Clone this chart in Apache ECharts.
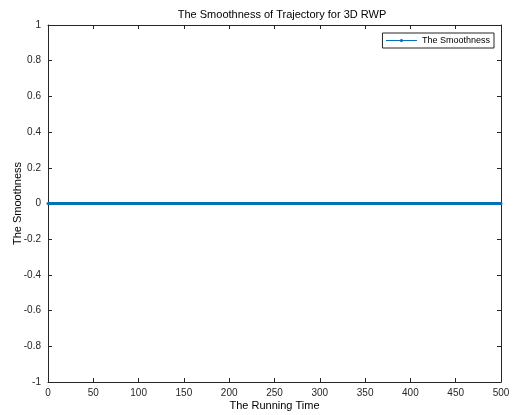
<!DOCTYPE html>
<html><head><meta charset="utf-8">
<script src="https://cdn.jsdelivr.net/npm/echarts@6/dist/echarts.min.js"></script>
<style>html,body{margin:0;padding:0;background:#fff}#c{width:515px;height:415px}</style>
</head><body><div id="c"></div>
<script>
const runningTime = [0,10,20,30,40,50,60,70,80,90,100,110,120,130,140,150,160,170,180,190,200,210,220,230,240,250,260,270,280,290,300,310,320,330,340,350,360,370,380,390,400,410,420,430,440,450,460,470,480,490,500];
const smoothness = [0,0,0,0,0,0,0,0,0,0,0,0,0,0,0,0,0,0,0,0,0,0,0,0,0,0,0,0,0,0,0,0,0,0,0,0,0,0,0,0,0,0,0,0,0,0,0,0,0,0,0];
const xTicks = [0,50,100,150,200,250,300,350,400,450,500];
const yTicks = [-1,-0.8,-0.6,-0.4,-0.2,0,0.2,0.4,0.6,0.8,1];

const axisCol = '#262626';
const font = 'Liberation Sans, Arial, sans-serif';
const chart = echarts.init(document.getElementById('c'));
chart.setOption({
  animation:false,
  backgroundColor:'#fff',
  title:{text:'The Smoothness of Trajectory for 3D RWP',left:277,top:4,textAlign:'center',
    textStyle:{fontFamily:font,fontSize:11,fontWeight:'normal',color:'#000'}},
  legend:{data:['The Smoothness'],right:21,top:33,orient:'vertical',
    borderColor:axisCol,borderWidth:1,borderRadius:0,padding:[3,4,3,3],
    itemWidth:31,itemHeight:4,itemGap:2,
    lineStyle:{width:1},
    textStyle:{fontFamily:font,fontSize:9,color:'#000'}},
  grid:{left:48,right:14,top:25,bottom:33,outerBoundsMode:'none',containLabel:false},
  xAxis:[{type:'value',min:0,max:500,interval:50,
    name:'The Running Time',nameLocation:'middle',nameGap:18,nameMoveOverlap:false,
    nameTextStyle:{fontFamily:font,fontSize:11,color:'#000'},
    axisLine:{onZero:false,lineStyle:{color:axisCol}},
    axisTick:{inside:true,length:4,lineStyle:{color:axisCol}},
    axisLabel:{fontFamily:font,fontSize:10,color:axisCol,margin:6,
      formatter:v=>xTicks.includes(v)?String(v):''},
    splitLine:{show:false}},
   {type:'value',position:'top',min:0,max:500,interval:50,
    axisLine:{show:true,onZero:false,lineStyle:{color:axisCol}},
    axisTick:{inside:true,length:4,lineStyle:{color:axisCol}},
    axisLabel:{show:false},splitLine:{show:false}}],
  yAxis:[{type:'value',min:-1,max:1,interval:0.2,
    name:'The Smoothness',nameLocation:'middle',nameGap:25,nameMoveOverlap:false,
    nameTextStyle:{fontFamily:font,fontSize:11,color:'#000'},
    axisLine:{show:true,onZero:false,lineStyle:{color:axisCol}},
    axisTick:{show:true,inside:true,length:4,lineStyle:{color:axisCol}},
    axisLabel:{fontFamily:font,fontSize:10,color:axisCol,margin:7,
      formatter:v=>{const r=Math.round(v*10)/10;return yTicks.includes(r)?String(r):'';}},
    splitLine:{show:false}},
   {type:'value',position:'right',min:-1,max:1,interval:0.2,
    axisLine:{show:true,onZero:false,lineStyle:{color:axisCol}},
    axisTick:{show:true,inside:true,length:4,lineStyle:{color:axisCol}},
    axisLabel:{show:false},splitLine:{show:false}}],
  series:[{name:'The Smoothness',type:'line',
    data:runningTime.map((t,i)=>[t,smoothness[i]]),
    color:'#0072BD',lineStyle:{width:3,color:'#0072BD'},
    symbol:'circle',symbolSize:3,showSymbol:true,
    itemStyle:{color:'#0072BD'}}]
});
</script></body></html>
